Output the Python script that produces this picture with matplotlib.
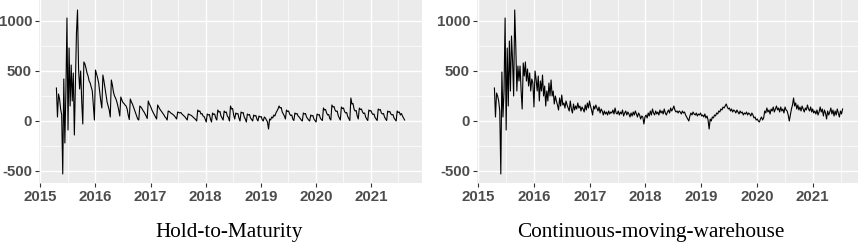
import numpy as np
import pandas as pd
import matplotlib
matplotlib.use("Agg")
import matplotlib.pyplot as plt
from matplotlib.ticker import MultipleLocator

# ---------------- data (weekly) ----------------
start_date = "2015-04-17"

htm_values = [
    # wild start 2015
    330, 40, 270, 220, 120, 60, -530, 420, -220, 300, 1030, -90, 730, 150,
    560, 200, 480, -140, 380, 880, 1110, 520, 320, 500, 190, -30,
    # sawtooth cycles
    590, 570, 530, 480, 450, 400, 380, 340, 300, 160, 10,
    510, 470, 430, 380, 290, 200, 130,
    460, 400, 330, 260, 190, 150, 110, 40,
    410, 360, 290, 250, 230, 200, 160, 110, 50,
    240, 210, 185, 175, 160, 150, 120, 60, 15,
    220, 190, 170, 140, 110, 80, 50, 20, 10,
    150, 140, 125, 105, 90, 70, 50, 25,
    200, 170, 150, 125, 100, 80, 60, 40, 20,
    160, 140, 120, 105, 90, 75, 60, 40, 30, 10,
    100, 95, 85, 75, 70, 60, 50, 35, 20,
    90, 85, 80, 85, 70, 60, 50, 40, 25, 10,
    70, 65, 60, 55, 45, 35, 25, 15, 0,
    110, 95, 100, 70, 75, 50, 45, 20, -10,
    70, 60, 65, 20, -10,
    80, 65, 70, 30, 10,
    110, 90, 95, 50, 30, 10,
    100, 85, 90, 50, 35, 0,
    150, 120, 125, 60, 20,
    80, 70, 75, 30, 0,
    90, 80, 85, 40, 20, -10,
    70, 60, 65, 30, 15, 0,
    60, 50, 55, 20, 0,
    50, 40, 45, 15, 0,
    40, 30, 10, -10,
    -80, 20, 10, 40, 30, 60,
    50, 80, 100, 120,
    150, 130, 135, 90, 70, 50, 20,
    110, 95, 100, 70, 55, 60, 20, 5,
    80, 70, 75, 50, 40, 25, 10, 0,
    80, 70, 75, 40, 25, 10, 0,
    60, 50, 55, 20, 5, -10,
    70, 60, 65, 30, 15, 5,
    130, 110, 115, 80, 60, 65, 25, 10,
    160, 140, 145, 110, 95, 100, 55, 30, 10,
    140, 125, 130, 95, 80, 85, 45, 25, 5,
    230, 170, 175, 120, 100, 105, 50, 20,
    130, 115, 120, 90, 75, 80, 40, 20, 5,
    110, 100, 105, 80, 65, 70, 35, 20, 5,
    120, 110, 115, 80, 70, 75, 40, 20, 5,
    100, 90, 95, 70, 60, 65, 30, 15, 0,
    100, 85, 90, 60, 75, 50, 30, 10,
]

cmw_values = [
    # wild start 2015
    330, 40, 280, 250, 200, 100, -530, 490, 40, 300, 1030, -90, 730, 150,
    800, 300, 850, 600, 250, 1110, 750, 300, 550, 400, 550, 300,
    120, 580, 450, 590, 400, 520, 350, 480, 300, 420, 380,
    # 2016
    140, 500, 420, 300, 450, 200, 400, 300,
    460, 250, 350, 150, 300, 200, 380, 250,
    410, 250, 300, 170, 250, 200, 160, 110,
    230, 150, 260, 160, 180, 130, 200, 160,
    130, 100, 200, 120, 80, 170, 110, 150,
    120, 180, 130, 150, 100, 140, 120, 90, 160, 110, 180, 130,
    # 2017
    200, 150, 110, 60, 150, 120, 160, 130, 100, 140, 80, 120,
    100, 60, 100, 70, 90, 60, 100, 70, 90, 80, 110, 70,
    130, 80, 70, 100, 60, 90, 70, 110, 50, 80, 100, 60,
    90, 70, 40, 80, 50, 90, 60, 100, 70, 40, 80, 60, 20, 50, 40, -30,
    # 2018
    40, 60, 30, 80, 50, 100, 60, 120, 80, 60, 100, 70,
    90, 60, 110, 80, 100, 70, 120, 80, 60, 90, 110, 80, 130, 100, 120,
    150,
    110, 90, 100, 80, 100, 90, 70, 100, 80, 90, 60, 40, 20,
    0,
    50, 80, 60, 90, 70, 60, 80, 50, 70, 60,
    # 2019
    80, 50, 60, 40, 70, 30, 50, 10,
    -80,
    20, 0, 40, 30, 60, 50, 80, 70, 100, 90, 120, 110, 140, 130, 150,
    170,
    140, 120, 130, 100, 120, 90, 110, 100, 80, 110, 90, 70, 100, 80, 90,
    60, 80, 70, 90, 60, 80, 70, 50, 80, 60, 30, 40, 10, 20,
    # 2020
    0, -10, 20, 40, 10, 30,
    100, 80, 130, 90, 110, 70, 120, 100, 140, 90, 120, 150, 110, 130, 90,
    140, 100, 120, 80, 140, 110, 100, 60,
    0,
    60, 120, 160,
    230,
    150, 180, 120, 160, 110, 140, 100, 150, 120, 90, 130, 110, 160, 120,
    100, 140, 90, 120, 80, 100, 70, 110, 60, 90,
    # 2021
    140, 90, 120, 50, 110, 80, 20, 100, 60, 90, 130, 70, 110, 50, 100, 60,
    120, 80, 40, 100, 70, 120,
]

panel_titles = ["Hold-to-Maturity", "Continuous-moving-warehouse"]
y_ticks = [-500, 0, 500, 1000]
x_tick_years = [2015, 2016, 2017, 2018, 2019, 2020, 2021]

# ---------------- figure ----------------
W, H = 858, 246
fig = plt.figure(figsize=(W / 100, H / 100), dpi=100)

panel_bg = "#EBEBEB"
text_grey = "#4D4D4D"
tick_font = dict(family="Liberation Sans", weight="bold", size=10.8, color=text_grey)

boxes = [
    (39 / W, 1 - 183 / H, (422 - 39) / W, 183 / H),
    (477 / W, 1 - 183 / H, 383 / W, 183 / H),
]
title_x = [229 / W, 651 / W]


def to_year(dates):
    return dates.year + (dates.dayofyear - 1) / 365.25


for values, box, title, tx in zip([htm_values, cmw_values], boxes, panel_titles, title_x):
    ax = fig.add_axes(box)
    dates = pd.date_range(start_date, periods=len(values), freq="7D")
    xs = to_year(dates)
    ax.set_facecolor(panel_bg)
    ax.plot(xs, values, color="black", lw=0.8, zorder=3)

    span = xs[-1] - xs[0]
    ax.set_xlim(xs[0] - 0.05 * span, xs[-1] + 0.05 * span)
    ax.set_ylim(-620, 1210)

    ax.set_xticks(x_tick_years)
    ax.set_yticks(y_ticks)
    ax.xaxis.set_minor_locator(MultipleLocator(0.5))
    ax.yaxis.set_minor_locator(MultipleLocator(250))
    ax.grid(which="major", color="white", lw=1.0, zorder=0)
    ax.grid(which="minor", color="white", lw=0.5, zorder=0)
    ax.set_axisbelow(True)
    for s in ax.spines.values():
        s.set_visible(False)
    ax.tick_params(which="major", length=3, width=0.8, color="#333333", pad=2)
    ax.tick_params(which="minor", length=0)
    ax.set_xticklabels([str(y) for y in x_tick_years], **tick_font)
    ax.set_yticklabels([str(v) for v in y_ticks], **tick_font)

    fig.text(tx, 1 - 233 / H, title, ha="center", va="center",
             family="Liberation Serif", size=15.3, color="black")

fig.savefig("out.png", dpi=100)
